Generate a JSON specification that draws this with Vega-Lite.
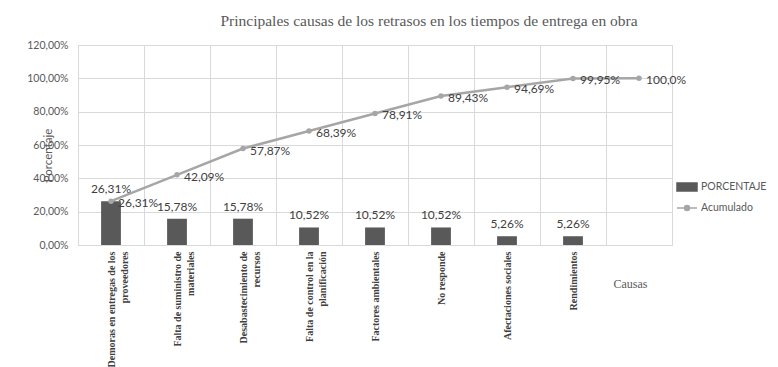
{
  "$schema": "https://vega.github.io/schema/vega-lite/v6.json",
  "autosize": {"type": "none"},
  "padding": {"left": 78, "top": 45, "right": 106, "bottom": 122},
  "width": 594,
  "height": 200,
  "background": "white",
  "title": {
    "text": "Principales  causas de los retrasos en los tiempos de entrega en obra",
    "font": "Liberation Serif",
    "fontSize": 15.5,
    "fontWeight": "normal",
    "color": "#595959",
    "anchor": "middle",
    "dx": 54,
    "offset": 11
  },
  "config": {
    "locale": {"number": {"decimal": ",", "thousands": ".", "grouping": [3], "currency": ["", " €"]}},
    "view": {"stroke": "#d9d9d9"}
  },
  "data": {
    "values": [
      {"causa": "Demoras en entregas de los|proveedores", "pct": 0.2631, "cum": 0.2631, "cumText": "26,31%"},
      {"causa": "Falta de suministro de|materiales", "pct": 0.1578, "cum": 0.4209, "cumText": "42,09%"},
      {"causa": "Desabastecimiento de|recursos", "pct": 0.1578, "cum": 0.5787, "cumText": "57,87%"},
      {"causa": "Falta de control en la|planificación", "pct": 0.1052, "cum": 0.6839, "cumText": "68,39%"},
      {"causa": "Factores ambientales", "pct": 0.1052, "cum": 0.7891, "cumText": "78,91%"},
      {"causa": "No responde", "pct": 0.1052, "cum": 0.8943, "cumText": "89,43%"},
      {"causa": "Afectaciones sociales", "pct": 0.0526, "cum": 0.9469, "cumText": "94,69%"},
      {"causa": "Rendimientos", "pct": 0.0526, "cum": 0.9995, "cumText": "99,95%"},
      {"causa": "(sin nombre)", "pct": null, "cum": 1.0, "cumText": "100,0%"}
    ]
  },
  "encoding": {
    "x": {
      "field": "causa",
      "type": "nominal",
      "sort": null,
      "scale": {"paddingInner": 0, "paddingOuter": 0},
      "axis": {
        "title": "Causas",
        "titleFont": "Liberation Serif",
        "titleFontSize": 12,
        "titleFontWeight": "normal",
        "titleColor": "#595959",
        "titleX": 552,
        "titleY": 38,
        "titleAlign": "center",
        "titleBaseline": "middle",
        "labelAngle": -90,
        "labelExpr": "datum.label === '(sin nombre)' ? '' : split(datum.label, '|')",
        "labelFont": "Liberation Serif",
        "labelFontSize": 10,
        "labelFontWeight": "bold",
        "labelColor": "#404040",
        "labelLineHeight": 13,
        "labelPadding": 6,
        "labelLimit": 200,
        "ticks": false,
        "tickBand": "extent",
        "grid": true,
        "gridColor": "#d9d9d9",
        "domainColor": "#d9d9d9"
      }
    },
    "y": {
      "field": "pct",
      "type": "quantitative",
      "scale": {"domain": [0, 1.2]},
      "axis": {
        "title": "Porcentaje",
        "titleFont": "Lato",
        "titleFontSize": 11.5,
        "titleFontWeight": "normal",
        "titleColor": "#595959",
        "titleX": -30,
        "titleY": 110,
        "titleAngle": -90,
        "titleAlign": "center",
        "titleBaseline": "middle",
        "values": [0, 0.2, 0.4, 0.6, 0.8, 1.0, 1.2],
        "format": ".2%",
        "labelOverlap": "greedy",
        "labelSeparation": 0,
        "labelFont": "Lato",
        "labelFontSize": 10.5,
        "labelColor": "#595959",
        "labelPadding": 10,
        "ticks": false,
        "domain": false,
        "grid": true,
        "gridColor": "#d9d9d9"
      }
    }
  },
  "layer": [
    {
      "transform": [{"filter": "datum.pct != null"}],
      "mark": {"type": "bar", "width": {"band": 0.3}},
      "encoding": {
        "color": {
          "datum": "PORCENTAJE",
          "scale": {"domain": ["PORCENTAJE", "Acumulado"], "range": ["#595959", "#a6a6a6"]},
          "legend": {
            "orient": "none",
            "legendX": 598,
            "legendY": 131,
            "title": null,
            "labelFont": "Lato",
            "labelFontSize": 10.5,
            "labelColor": "#595959",
            "labelOffset": 3,
            "rowPadding": 3,
            "symbolSize": 400,
            "encode": {
              "symbols": {
                "update": {
                  "shape": {"signal": "datum.value === 'PORCENTAJE' ? 'M-1,-0.4H1V0.4H-1Z' : 'M-1,0H1M-0.25,0A0.25,0.25 0 1,0 0.25,0A0.25,0.25 0 1,0 -0.25,0'"},
                  "fill": {"signal": "datum.value === 'PORCENTAJE' ? '#595959' : '#a6a6a6'"},
                  "stroke": {"signal": "datum.value === 'PORCENTAJE' ? '#595959' : '#a6a6a6'"},
                  "strokeWidth": {"value": 1.5},
                  "size": {"value": 400}
                }
              }
            }
          }
        }
      }
    },
    {
      "transform": [{"filter": "datum.pct != null"}],
      "mark": {"type": "text", "baseline": "bottom", "dy": -5, "font": "Lato", "fontSize": 12, "color": "#404040"},
      "encoding": {
        "text": {"field": "pct", "type": "quantitative", "format": ".2%"}
      }
    },
    {
      "mark": {"type": "line", "strokeWidth": 2.5, "point": {"filled": true, "size": 30}},
      "encoding": {
        "y": {"field": "cum", "type": "quantitative"},
        "color": {"datum": "Acumulado"}
      }
    },
    {
      "mark": {"type": "text", "align": "left", "baseline": "middle", "dx": 7, "dy": 2, "font": "Lato", "fontSize": 12, "color": "#404040"},
      "encoding": {
        "y": {"field": "cum", "type": "quantitative"},
        "text": {"field": "cumText"}
      }
    }
  ]
}
